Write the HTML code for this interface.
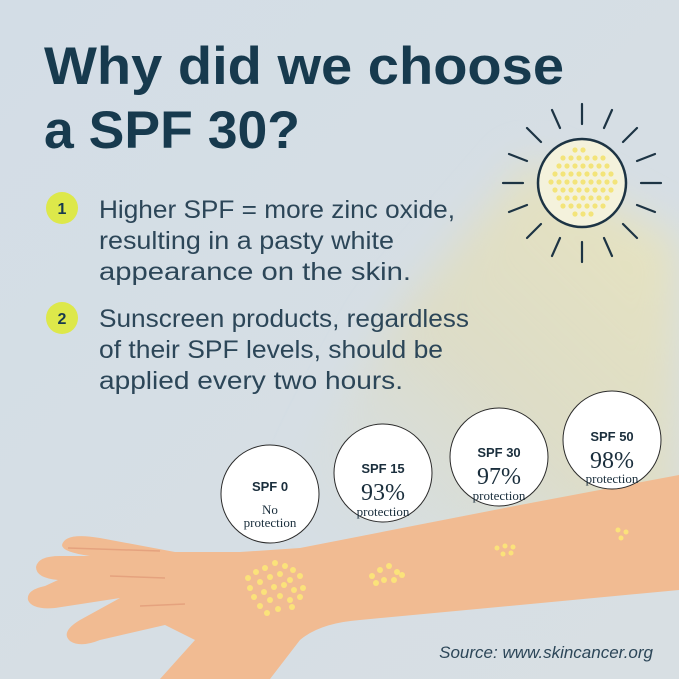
<!DOCTYPE html>
<html><head><style>
body{margin:0;width:679px;height:679px;overflow:hidden;}
</style></head><body>
<svg width="679" height="679" viewBox="0 0 679 679" xmlns="http://www.w3.org/2000/svg">
<defs>
<linearGradient id="bg" x1="0" y1="0" x2="1" y2="1">
<stop offset="0" stop-color="#d3dde6"/><stop offset="1" stop-color="#d8dfe3"/>
</linearGradient>
<linearGradient id="beam" x1="0.9" y1="0.1" x2="0.1" y2="0.9">
<stop offset="0" stop-color="#e6e3c0" stop-opacity="1"/>
<stop offset="0.5" stop-color="#dfdcc0" stop-opacity="0.8"/>
<stop offset="1" stop-color="#d8dcd0" stop-opacity="0"/>
</linearGradient>
<filter id="blur"><feGaussianBlur stdDeviation="20"/></filter>
</defs>
<rect width="679" height="679" fill="url(#bg)"/>
<polygon points="530,160 679,240 679,520 300,560 260,540 390,320" fill="url(#beam)" filter="url(#blur)"/>
<!-- arm & hand -->
<path d="M679,475 L520,505 L300,548 L240,552 L175,552 L100,538 Q65,532 62,545 Q62,552 90,556 L60,556 Q38,556 36,567 Q36,578 58,580 L45,586 Q26,590 28,600 Q32,610 55,608 L120,598 L80,620 Q60,632 70,641 Q80,648 100,640 L165,625 L195,640 L160,679 L270,679 L300,640 Q320,623 360,620 L679,590 Z" fill="#f1bb92"/>
<path d="M68,548 L160,551 M110,576 L165,578 M140,606 L185,604" stroke="#e5a27e" stroke-width="1.5" fill="none"/>
<g fill="#fbe27a">
<circle cx="248" cy="578" r="3"/><circle cx="256" cy="572" r="3"/><circle cx="265" cy="568" r="3"/><circle cx="275" cy="563" r="3"/><circle cx="285" cy="566" r="3"/><circle cx="293" cy="570" r="3"/>
<circle cx="250" cy="588" r="3"/><circle cx="260" cy="582" r="3"/><circle cx="270" cy="577" r="3"/><circle cx="280" cy="574" r="3"/><circle cx="290" cy="580" r="3"/><circle cx="300" cy="576" r="3"/>
<circle cx="254" cy="597" r="3"/><circle cx="264" cy="592" r="3"/><circle cx="274" cy="587" r="3"/><circle cx="284" cy="585" r="3"/><circle cx="294" cy="590" r="3"/><circle cx="303" cy="588" r="3"/>
<circle cx="260" cy="606" r="3"/><circle cx="270" cy="600" r="3"/><circle cx="280" cy="596" r="3"/><circle cx="290" cy="600" r="3"/><circle cx="300" cy="597" r="3"/>
<circle cx="267" cy="613" r="3"/><circle cx="278" cy="609" r="3"/><circle cx="292" cy="607" r="3"/>
<circle cx="372" cy="576" r="3"/><circle cx="380" cy="570" r="3"/><circle cx="389" cy="566" r="3"/><circle cx="397" cy="572" r="3"/><circle cx="384" cy="580" r="3"/><circle cx="394" cy="580" r="3"/><circle cx="402" cy="575" r="3"/><circle cx="376" cy="583" r="3"/>
<circle cx="497" cy="548" r="2.5"/><circle cx="505" cy="546" r="2.5"/><circle cx="513" cy="547" r="2.5"/><circle cx="503" cy="554" r="2.5"/><circle cx="511" cy="553" r="2.5"/>
<circle cx="618" cy="530" r="2.5"/><circle cx="626" cy="532" r="2.5"/><circle cx="621" cy="538" r="2.5"/>
</g>
<!-- sun -->
<g stroke="#1d3444" stroke-width="2.2" stroke-linecap="round">
<line x1="582" y1="124" x2="582" y2="104"/><line x1="582" y1="242" x2="582" y2="262"/>
<line x1="523" y1="183" x2="503" y2="183"/><line x1="641" y1="183" x2="661" y2="183"/>
<line x1="541" y1="142" x2="527" y2="128"/><line x1="623" y1="142" x2="637" y2="128"/>
<line x1="541" y1="224" x2="527" y2="238"/><line x1="623" y1="224" x2="637" y2="238"/>
<line x1="560" y1="128" x2="552" y2="110"/><line x1="604" y1="128" x2="612" y2="110"/>
<line x1="560" y1="238" x2="552" y2="256"/><line x1="604" y1="238" x2="612" y2="256"/>
<line x1="527" y1="161" x2="509" y2="154"/><line x1="637" y1="161" x2="655" y2="154"/>
<line x1="527" y1="205" x2="509" y2="212"/><line x1="637" y1="205" x2="655" y2="212"/>
</g>
<circle cx="582" cy="183" r="44" fill="#f4f2dc" stroke="#1d3444" stroke-width="2.5"/>
<g fill="#f3e47a" id="dots"></g>
<!-- circles -->
<g fill="#fff" stroke="#2b2b2b" stroke-width="1">
<circle cx="270" cy="494" r="49"/><circle cx="383" cy="473" r="49"/><circle cx="499" cy="457" r="49"/><circle cx="612" cy="440" r="49"/>
</g>
<g font-family="Liberation Sans, sans-serif" font-weight="bold" font-size="13" fill="#1a2e3c" text-anchor="middle">
<text x="270" y="491">SPF 0</text><text x="383" y="473">SPF 15</text><text x="499" y="457">SPF 30</text><text x="612" y="441">SPF 50</text>
</g>
<g font-family="Liberation Serif, serif" fill="#1a2e3c" text-anchor="middle">
<text x="270" y="514" font-size="13">No</text><text x="270" y="527" font-size="13">protection</text>
<text x="383" y="500" font-size="24">93%</text><text x="383" y="516" font-size="13">protection</text>
<text x="499" y="484" font-size="24">97%</text><text x="499" y="500" font-size="13">protection</text>
<text x="612" y="468" font-size="24">98%</text><text x="612" y="483" font-size="13">protection</text>
</g>
<!-- title -->
<g font-family="Liberation Sans, sans-serif" font-weight="bold" font-size="53" fill="#173a4e">
<text x="44" y="84" textLength="520" lengthAdjust="spacingAndGlyphs">Why did we choose</text>
<text x="44" y="148" textLength="256" lengthAdjust="spacingAndGlyphs">a SPF 30?</text>
</g>
<circle cx="62" cy="208" r="16" fill="#dde84a"/>
<circle cx="62" cy="318" r="16" fill="#dde84a"/>
<g font-family="Liberation Sans, sans-serif" font-weight="bold" font-size="16" fill="#173a4e" text-anchor="middle">
<text x="62" y="214">1</text><text x="62" y="324">2</text>
</g>
<g font-family="Liberation Sans, sans-serif" font-size="25" fill="#2c4658">
<text x="99" y="218" textLength="356" lengthAdjust="spacingAndGlyphs">Higher SPF = more zinc oxide,</text>
<text x="99" y="249" textLength="295" lengthAdjust="spacingAndGlyphs">resulting in a pasty white</text>
<text x="99" y="280" textLength="312" lengthAdjust="spacingAndGlyphs">appearance on the skin.</text>
<text x="99" y="327" textLength="370" lengthAdjust="spacingAndGlyphs">Sunscreen products, regardless</text>
<text x="99" y="358" textLength="344" lengthAdjust="spacingAndGlyphs">of their SPF levels, should be</text>
<text x="99" y="389" textLength="304" lengthAdjust="spacingAndGlyphs">applied every two hours.</text>
</g>
<text x="653" y="658" text-anchor="end" font-family="Liberation Sans, sans-serif" font-style="italic" font-size="17" fill="#2c4658">Source: www.skincancer.org</text>
</svg>
<script>
var g=document.getElementById('dots'),s='';
for(var y=150;y<=216;y+=8){for(var x=548+((y/8)%2)*4;x<=616;x+=8){var dx=x-582,dy=y-183;if(dx*dx+dy*dy<34*34){s+='<circle cx="'+x+'" cy="'+y+'" r="2.6"/>';}}}
g.innerHTML=s;
</script>
</body></html>
